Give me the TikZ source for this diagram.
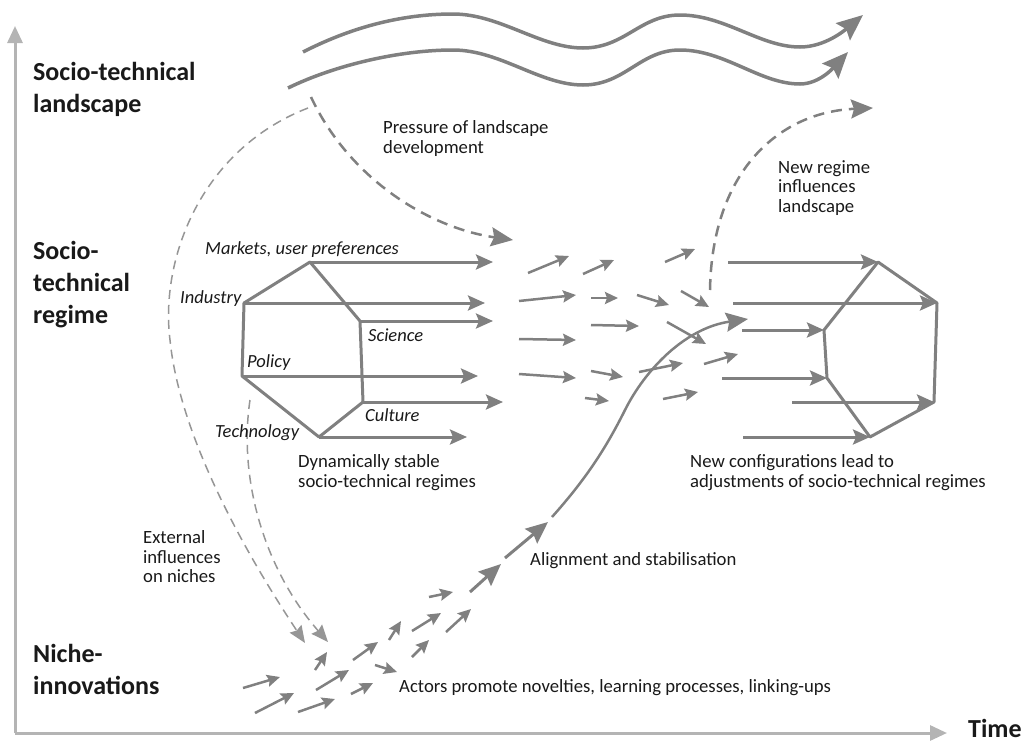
\documentclass[tikz,border=0pt]{standalone}
\usepackage{fontspec}
\setmainfont{Carlito}
\usetikzlibrary{arrows.meta, math}
\definecolor{sgray}{RGB}{128,128,128}
\definecolor{saxis}{RGB}{180,180,180}
\definecolor{sdash}{RGB}{150,150,150}
\definecolor{stext}{RGB}{25,25,25}

\tikzset{
  level/.style={anchor=west, inner sep=0pt, align=left, text=stext, font=\fontsize{26}{32}\selectfont\bfseries},
  note/.style={anchor=west, inner sep=0pt, align=left, text=stext, font=\fontsize{18.7}{19.5}\selectfont},
  factor/.style={anchor=west, inner sep=0pt, text=stext, font=\fontsize{18.5}{20}\selectfont\itshape},
  axisline/.style={draw=saxis, line width=3pt, -{Triangle[length=17pt,width=15pt]}},
  hexline/.style={draw=sgray, line width=3pt, line join=round},
  regarrow/.style={draw=sgray, line width=3pt, -{Stealth[length=17pt,width=15pt,inset=3pt]}},
  smallarrow/.style={draw=sgray, line width=2.5pt, -{Stealth[length=13pt,width=12pt,inset=2pt]}},
  bigarrow/.style={draw=sgray, line width=3pt, -{Stealth[length=22pt,width=19pt,inset=3pt]}},
  wavearrow/.style={draw=sgray, line width=3.5pt, -{Stealth[length=26pt,width=22pt,inset=4pt]}},
  pressarrow/.style={draw=sgray, line width=2.5pt, dash pattern=on 11pt off 7pt, -{Stealth[length=22pt,width=19pt,inset=3pt]}},
  extarrow/.style={draw=sdash, line width=1.5pt, dash pattern=on 9pt off 6pt, -{Stealth[length=17pt,width=14pt,inset=2pt]}},
}

\begin{document}
\begin{tikzpicture}[x=1pt,y=-1pt]
\useasboundingbox (0,0) rectangle (1023,742);

% axes
\coordinate (origin) at (15,733);
\coordinate (ytop) at (15,26);
\coordinate (xend) at (947,733);
\draw[axisline] (origin) -- (ytop);
\draw[axisline] (origin) -- (xend);

% levels
\node[level] (landscape) at (33,89) {Socio-technical\\landscape};
\node[level] (regime) at (33,285) {Socio-\\technical\\regime};
\node[level] (niche) at (33,669) {Niche-\\innovations};
\node[level, anchor=base west] (time) at (968,737) {Time};

% landscape waves
\draw[wavearrow] (303,52) .. controls (350,28) and (400,14) .. (453,14)
  .. controls (500,14) and (540,48) .. (583,48)
  .. controls (625,48) and (640,15) .. (680,15)
  .. controls (725,15) and (760,47) .. (800,47)
  .. controls (825,47) and (845,30) .. (863,15);
\draw[wavearrow] (288,88) .. controls (335,65) and (400,50) .. (453,50)
  .. controls (500,50) and (540,85) .. (583,85)
  .. controls (625,85) and (640,50) .. (680,50)
  .. controls (725,50) and (760,84) .. (800,84)
  .. controls (820,84) and (835,66) .. (848,52);

% pressure and feedback
\draw[pressarrow] (311,97) .. controls (350,180) and (430,228) .. (513,240);
\draw[pressarrow] (710,290) .. controls (712,170) and (780,112) .. (873,108);
\draw[extarrow] (308,108) .. controls (200,150) and (160,260) .. (170,340)
  .. controls (180,440) and (250,560) .. (305,643);
\draw[extarrow] (250,400) .. controls (238,480) and (265,570) .. (328,642);

\node[note] (pressure) at (383,138.5) {Pressure of landscape\\development};
\node[note] (newregime) at (778,188) {New regime\\influences\\landscape};
\node[note] (external) at (143,557) {External\\influences\\on niches};

% stable regime
\coordinate (mkt) at (310,262);
\coordinate (ind) at (244,303);
\coordinate (pol) at (242,376);
\coordinate (tec) at (319,437);
\coordinate (cul) at (363,402);
\coordinate (sci) at (360,321);
\draw[hexline] (mkt) -- (ind) -- (pol) -- (tec) -- (cul) -- (sci) -- cycle;
\draw[regarrow] (mkt) -- (493,262);
\draw[regarrow] (ind) -- (485,303);
\draw[regarrow] (sci) -- (493,321);
\draw[regarrow] (pol) -- (478,376);
\draw[regarrow] (cul) -- (503,402);
\draw[regarrow] (tec) -- (467,437);

\node[factor] (markets) at (205,250) {Markets, user preferences};
\node[factor] (industry) at (180,299) {Industry};
\node[factor] (science) at (368,335) {Science};
\node[factor] (policy) at (247,363) {Policy};
\node[factor] (culture) at (365,415) {Culture};
\node[factor] (technology) at (215,433) {Technology};
\node[note] (stable) at (298,472.5) {Dynamically stable\\socio-technical regimes};

% breaking up
\foreach \xa/\ya/\xb/\yb in {528/273/569/256, 583/274/614/260, 665/262/695/249,
    519/301/576/295, 591/298/618/298, 637/295/669/305, 681/291/709/307,
    591/325/639/326, 667/322/706/344, 519/339/576/340, 519/374/576/378,
    591/371/623/377, 639/372/683/363, 704/364/738/354, 585/398/609/401,
    663/399/698/392}
  \draw[smallarrow] (\xa,\ya) -- (\xb,\yb);

% new regime
\coordinate (ntop) at (878,262);
\coordinate (nru) at (937,303);
\coordinate (nrl) at (934,402);
\coordinate (nbot) at (870,437);
\coordinate (nll) at (827,378);
\coordinate (nlu) at (824,330);
\draw[hexline] (ntop) -- (nru) -- (nrl) -- (nbot) -- (nll) -- (nlu) -- cycle;
\draw[regarrow] (728,262) -- (ntop);
\draw[regarrow] (733,303) -- (nru);
\draw[regarrow] (742,330) -- (nlu);
\draw[regarrow] (722,378) -- (nll);
\draw[regarrow] (792,402) -- (nrl);
\draw[regarrow] (743,437) -- (nbot);
\node[note] (newconf) at (690,472.5) {New configurations lead to\\adjustments of socio-technical regimes};

% niches
\foreach \xa/\ya/\xb/\yb in {243/688/280/677, 255/713/294/693, 298/712/335/699,
    316/690/349/670, 351/694/373/683, 315/670/327/652, 353/660/378/642,
    375/665/397/672, 389/640/401/621, 412/657/429/640, 412/631/441/613,
    429/597/453/592, 446/632/471/609}
  \draw[smallarrow] (\xa,\ya) -- (\xb,\yb);
\draw[bigarrow] (470,592) -- (501,564);
\draw[bigarrow] (505,558) -- (548,522);
\draw[bigarrow, line width=2.5pt] (552,517) .. controls (585,480) and (605,450) .. (625,410)
  .. controls (645,370) and (685,328) .. (748,319);

\node[note] (alignment) at (530,561) {Alignment and stabilisation};
\node[note] (actors) at (399,688) {Actors promote novelties, learning processes, linking-ups};

\end{tikzpicture}
\end{document}
